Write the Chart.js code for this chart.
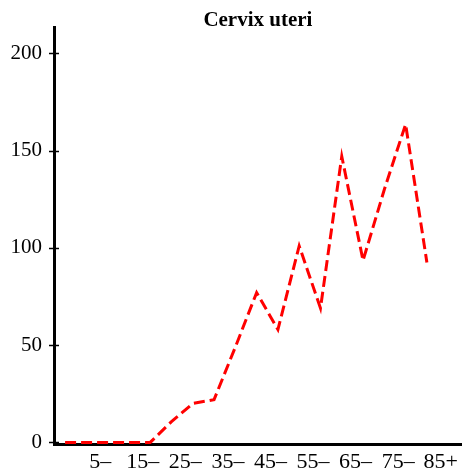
<!DOCTYPE html>
<html>
<head>
<meta charset="utf-8">
<script src="https://cdn.jsdelivr.net/npm/chart.js@4.4.0/dist/chart.umd.min.js"></script>
<style>
  html, body { margin: 0; padding: 0; background: #fff; }
  #wrap { width: 463px; height: 470px; }
</style>
</head>
<body>
<div id="wrap"><canvas id="chart"></canvas></div>
<script>
// age groups, one point each
var ageGroups = ["0–", "5–", "10–", "15–", "20–", "25–", "30–", "35–", "40–",
                 "45–", "50–", "55–", "60–", "65–", "70–", "75–", "80–", "85+"];
var rates = [0, 0, 0, 0, 0, 10.7, 20, 22, 49, 77, 58, 101, 69, 147, 93.5, 130, 163.5, 92.5];

// labelled groups on the x axis (every other group)
var xTickGroups = [1, 3, 5, 7, 9, 11, 13, 15, 17];
var xTickLabels = ["5–", "15–", "25–", "35–", "45–", "55–", "65–", "75–", "85+"];
var yTicks = [0, 50, 100, 150, 200];

var serif = "'Liberation Serif', 'DejaVu Serif', serif";
var labelShift = 0.65;

// small cross marks on the y axis, like the original
var tickCross = {
  id: "tickCross",
  afterDraw: function (chart) {
    var ctx = chart.ctx;
    var y = chart.scales.y;
    var x0 = chart.chartArea.left;
    ctx.save();
    ctx.strokeStyle = "#000";
    ctx.lineWidth = 1.5;
    yTicks.forEach(function (v) {
      var py = Math.round(y.getPixelForValue(v)) + 0.5;
      ctx.beginPath();
      ctx.moveTo(x0 - 5, py);
      ctx.lineTo(x0 + 5, py);
      ctx.stroke();
    });
    ctx.restore();
  }
};

var points = rates.map(function (v, i) { return { x: i, y: v }; });

new Chart(document.getElementById("chart").getContext("2d"), {
  type: "line",
  data: {
    datasets: [{
      label: "Cervix uteri",
      data: points,
      borderColor: "#ff0000",
      borderWidth: 3,
      borderDash: [11, 5],
      pointRadius: 0,
      tension: 0,
      fill: false
    }]
  },
  options: {
    responsive: true,
    maintainAspectRatio: false,
    animation: false,
    layout: { padding: 0 },
    plugins: {
      legend: { display: false },
      tooltip: { enabled: false },
      title: {
        display: true,
        text: "Cervix uteri",
        color: "#000",
        fullSize: false,
        font: { family: serif, size: 21, weight: "bold", lineHeight: 1 },
        padding: { top: 10, bottom: -4 }
      }
    },
    scales: {
      x: {
        type: "linear",
        min: -0.52,
        max: 18.64,
        grid: { display: false, drawTicks: false },
        border: { display: true, color: "#000", width: 3 },
        afterBuildTicks: function (scale) {
          scale.ticks = xTickGroups.map(function (g) { return { value: g + labelShift }; });
        },
        afterFit: function (scale) { scale.height = 26; },
        ticks: {
          autoSkip: false,
          maxRotation: 0,
          padding: 5,
          color: "#000",
          font: { family: serif, size: 22 },
          callback: function (value, index) { return xTickLabels[index]; }
        }
      },
      y: {
        min: -0.8,
        max: 213.5,
        grid: { display: false, drawTicks: false },
        border: { display: true, color: "#000", width: 3 },
        afterBuildTicks: function (scale) {
          scale.ticks = yTicks.map(function (v) { return { value: v }; });
        },
        afterFit: function (scale) { scale.width = 54; },
        ticks: {
          padding: 12,
          color: "#000",
          font: { family: serif, size: 21 }
        }
      }
    }
  },
  plugins: [tickCross]
});
</script>
</body>
</html>
